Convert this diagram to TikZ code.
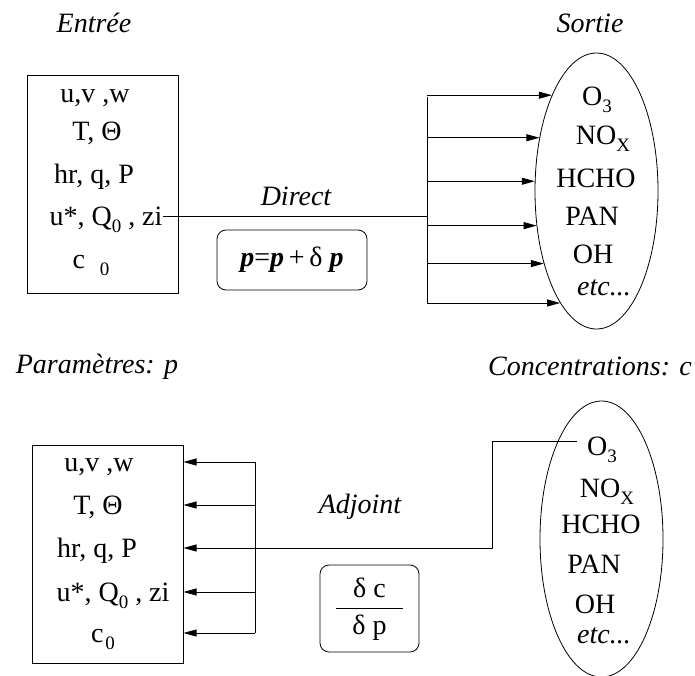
\documentclass[tikz,border=0pt]{standalone}
\usepackage{fontspec}
\setmainfont{Liberation Serif}
\usetikzlibrary{arrows.meta,shapes.geometric}
\newcommand\indice[1]{\raisebox{-7pt}{\fontsize{19}{19}\selectfont #1}}

\begin{document}
\begin{tikzpicture}[x=1pt,y=-1pt,line join=round,line width=0.8pt,
		>={Triangle[length=13pt,width=7pt]},
		every node/.style={font=\fontsize{28}{33}\selectfont},
		titre/.style={font=\fontsize{28}{33}\selectfont\itshape,anchor=base},
		item/.style={inner sep=0pt,text height=22pt,text depth=4pt},
		espece/.style={inner sep=0pt,anchor=base},
		cadre/.style={draw,line width=1pt,minimum width=151pt,minimum height=218pt},
		nuage/.style={draw,ellipse,minimum width=123pt,minimum height=276pt},
		formule/.style={draw,rounded corners=9pt}]
	\useasboundingbox (0,0) rectangle (695,675);
	% direct
	\node[titre] (entree) at (94,32) {Entrée};
	\node[titre] (sortie) at (590,32) {Sortie};
	\node[cadre] (boxA) at (102.5,184) {};
	\foreach \n/\x/\y/\txt in {1/95/93/{u,v ,w},2/97/131/{T, Θ},3/94/174/{hr, q, P},
		4/106/216/{u*, Q\indice{0} , zi},5/91/259/{c\hspace{15pt}\indice{0}}}
	\node[item] (pA\n) at (\x,\y) {\txt};
	\node[nuage] (outA) at (596.5,191) {};
	\foreach \n/\x/\y/\txt in {1/597/105/{O\indice{3}},2/603/144/{NO\indice{X}},
		3/596/187/HCHO,4/592/225/PAN,5/593/263/OH,6/604/295/{\itshape etc...}}
	\node[espece] (cA\n) at (\x,\y) {\txt};
	\coordinate (busAh) at (427,97);
	\coordinate (busAb) at (427,303);
	\draw (busAh) -- (busAb);
	\draw (pA4.east) -- (pA4.east -| busAh);
	\foreach \a in {115.4,137.4,171.6,210.7,234.6,252.4}
	\draw[->] (busAh |- outA.\a) -- (outA.\a);
	\node[titre] (direct) at (296,205) {Direct};
	\node[formule,minimum width=150pt,minimum height=60pt] (majA) at (292,260)
	{{\bfseries\itshape p}={\bfseries\itshape p}\,+\,δ {\bfseries\itshape p}};
	% adjoint
	\node[titre] (param) at (97,373) {Paramètres: p};
	\node[titre] (conc) at (590,375) {Concentrations: c};
	\node[cadre] (boxB) at (107.5,554) {};
	\foreach \n/\x/\y/\txt in {1/99/462/{u,v ,w},2/98/505/{T, Θ},3/97/548/{hr, q, P},
		4/113/592/{u*, Q\indice{0} , zi},5/103/633/{c\hspace{2pt}\indice{0}}}
	\node[item] (pB\n) at (\x,\y) {\txt};
	\node[nuage] (outB) at (601.5,539) {};
	\foreach \n/\x/\y/\txt in {1/602/455/{O\indice{3}},2/607/497/{NO\indice{X}},
		3/601/533/HCHO,4/594/573/PAN,5/595/613/OH,6/604/643/{\itshape etc...}}
	\node[espece] (cB\n) at (\x,\y) {\txt};
	\coordinate (busBh) at (255,462);
	\coordinate (busBb) at (255,633);
	\draw (busBh) -- (busBb);
	\foreach \n in {1,2,4,5}
	\draw[->] (busBh |- pB\n) -- (pB\n -| boxB.east);
	\coordinate (depB) at ([xshift=-10pt,yshift=14pt]cB1.base west);
	\coordinate (coudeB) at (492,548);
	\draw[->] (depB) -| (coudeB) -- (pB3 -| boxB.east);
	\node[titre] (adjoint) at (360,513) {Adjoint};
	\node[formule,minimum width=99pt,minimum height=87pt] (gradB) at (369.5,608.5)
	{\setlength{\tabcolsep}{16pt}\renewcommand{\arraystretch}{1.12}%
		\begin{tabular}{c}δ c\\\hline δ p\end{tabular}};
\end{tikzpicture}
\end{document}
